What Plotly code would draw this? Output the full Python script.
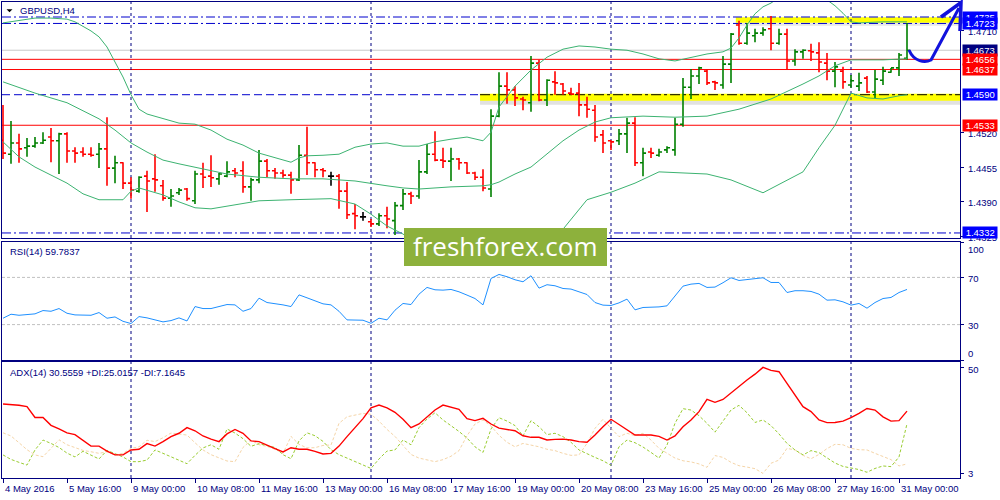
import plotly.graph_objects as go

# ---------------- data ----------------
bar_index = list(range(114))

opens = [1.4505, 1.4479, 1.4500, 1.4491, 1.4494, 1.4500, 1.4511, 1.4504, 1.4517, 1.4485,
         1.4483, 1.4479, 1.4479, 1.4489, 1.4453, 1.4463, 1.4425, 1.4410, 1.4438, 1.4433,
         1.4420, 1.4397, 1.4407, 1.4414, 1.4392, 1.4442, 1.4438, 1.4433, 1.4438, 1.4448,
         1.4448, 1.4418, 1.4431, 1.4466, 1.4448, 1.4444, 1.4440, 1.4431, 1.4477, 1.4463,
         1.4450, 1.4438, 1.4438, 1.4410, 1.4368, 1.4362, 1.4353, 1.4349, 1.4364, 1.4355,
         1.4383, 1.4405, 1.4401, 1.4446, 1.4479, 1.4468, 1.4466, 1.4470, 1.4463, 1.4444,
         1.4436, 1.4414, 1.4550, 1.4606, 1.4599, 1.4582, 1.4575, 1.4649, 1.4580, 1.4614,
         1.4610, 1.4593, 1.4593, 1.4571, 1.4561, 1.4515, 1.4504, 1.4504, 1.4517, 1.4537,
         1.4463, 1.4483, 1.4477, 1.4487, 1.4487, 1.4535, 1.4604, 1.4625, 1.4634, 1.4614,
         1.4608, 1.4647, 1.4720, 1.4686, 1.4700, 1.4705, 1.4713, 1.4686, 1.4703, 1.4653,
         1.4670, 1.4672, 1.4668, 1.4649, 1.4634, 1.4634, 1.4608, 1.4606, 1.4621, 1.4595,
         1.4617, 1.4632, 1.4640, 1.4658]
highs = [1.4571, 1.4541, 1.4517, 1.4509, 1.4511, 1.4520, 1.4528, 1.4519, 1.4520, 1.4492,
         1.4492, 1.4492, 1.4500, 1.4548, 1.4476, 1.4464, 1.4436, 1.4438, 1.4448, 1.4479,
         1.4431, 1.4414, 1.4416, 1.4416, 1.4448, 1.4463, 1.4477, 1.4444, 1.4466, 1.4453,
         1.4466, 1.4435, 1.4487, 1.4470, 1.4453, 1.4450, 1.4446, 1.4496, 1.4530, 1.4464,
         1.4453, 1.4446, 1.4442, 1.4427, 1.4386, 1.4371, 1.4358, 1.4369, 1.4381, 1.4390,
         1.4414, 1.4409, 1.4468, 1.4498, 1.4522, 1.4491, 1.4491, 1.4472, 1.4464, 1.4446,
         1.4451, 1.4563, 1.4632, 1.4632, 1.4606, 1.4586, 1.4662, 1.4655, 1.4619, 1.4634,
         1.4612, 1.4603, 1.4612, 1.4586, 1.4571, 1.4524, 1.4505, 1.4526, 1.4547, 1.4548,
         1.4491, 1.4491, 1.4489, 1.4494, 1.4547, 1.4621, 1.4638, 1.4642, 1.4638, 1.4616,
         1.4662, 1.4705, 1.4728, 1.4724, 1.4713, 1.4716, 1.4737, 1.4713, 1.4713, 1.4675,
         1.4675, 1.4685, 1.4688, 1.4668, 1.4651, 1.4642, 1.4627, 1.4631, 1.4625, 1.4636,
         1.4642, 1.4640, 1.4668, 1.4724]
lows = [1.4470, 1.4461, 1.4463, 1.4474, 1.4491, 1.4498, 1.4464, 1.4442, 1.4463, 1.4463,
        1.4474, 1.4474, 1.4453, 1.4420, 1.4425, 1.4414, 1.4396, 1.4407, 1.4371, 1.4409,
        1.4392, 1.4381, 1.4403, 1.4392, 1.4386, 1.4416, 1.4418, 1.4422, 1.4436, 1.4436,
        1.4407, 1.4392, 1.4425, 1.4436, 1.4433, 1.4435, 1.4405, 1.4429, 1.4440, 1.4436,
        1.4436, 1.4420, 1.4377, 1.4358, 1.4339, 1.4355, 1.4343, 1.4345, 1.4341, 1.4328,
        1.4375, 1.4386, 1.4396, 1.4442, 1.4466, 1.4453, 1.4429, 1.4450, 1.4442, 1.4431,
        1.4410, 1.4399, 1.4548, 1.4573, 1.4569, 1.4561, 1.4558, 1.4578, 1.4569, 1.4590,
        1.4590, 1.4590, 1.4550, 1.4547, 1.4502, 1.4481, 1.4487, 1.4496, 1.4481, 1.4457,
        1.4438, 1.4472, 1.4474, 1.4481, 1.4476, 1.4530, 1.4582, 1.4610, 1.4608, 1.4599,
        1.4601, 1.4612, 1.4683, 1.4683, 1.4688, 1.4700, 1.4673, 1.4683, 1.4638, 1.4644,
        1.4657, 1.4653, 1.4632, 1.4617, 1.4604, 1.4601, 1.4603, 1.4597, 1.4593, 1.4584,
        1.4608, 1.4631, 1.4625, 1.4655]
closes = [1.4481, 1.4500, 1.4489, 1.4494, 1.4500, 1.4505, 1.4504, 1.4517, 1.4485, 1.4481,
          1.4479, 1.4477, 1.4489, 1.4453, 1.4463, 1.4425, 1.4412, 1.4436, 1.4429, 1.4431,
          1.4397, 1.4401, 1.4412, 1.4396, 1.4442, 1.4436, 1.4435, 1.4442, 1.4446, 1.4444,
          1.4418, 1.4431, 1.4466, 1.4448, 1.4444, 1.4440, 1.4431, 1.4477, 1.4463, 1.4450,
          1.4448, 1.4438, 1.4410, 1.4366, 1.4364, 1.4362, 1.4349, 1.4364, 1.4358, 1.4383,
          1.4405, 1.4401, 1.4446, 1.4479, 1.4468, 1.4466, 1.4470, 1.4463, 1.4444, 1.4436,
          1.4416, 1.4550, 1.4606, 1.4599, 1.4584, 1.4580, 1.4649, 1.4580, 1.4617, 1.4612,
          1.4597, 1.4591, 1.4571, 1.4563, 1.4511, 1.4500, 1.4502, 1.4517, 1.4537, 1.4463,
          1.4481, 1.4481, 1.4483, 1.4491, 1.4535, 1.4604, 1.4625, 1.4640, 1.4612, 1.4612,
          1.4647, 1.4703, 1.4686, 1.4705, 1.4705, 1.4711, 1.4686, 1.4703, 1.4653, 1.4670,
          1.4673, 1.4670, 1.4651, 1.4634, 1.4642, 1.4614, 1.4616, 1.4612, 1.4595, 1.4619,
          1.4634, 1.4640, 1.4664, 1.4673]

bb_upper_idx = [0, 2, 4, 6, 8, 9, 10, 11, 12, 13, 14, 15, 16, 17, 18, 20, 22, 24, 26, 28,
                30, 32, 34, 36, 37, 38, 40, 42, 44, 46, 48, 50, 52, 54, 56, 58, 60, 61, 62, 63,
                64, 65, 66, 68, 70, 72, 74, 76, 78, 80, 82, 84, 86, 88, 90, 91, 92, 93, 94, 95,
                96, 98, 100, 102, 103, 104, 105, 106, 107, 110, 113]
bb_upper = [1.4724, 1.4729, 1.4733, 1.4733, 1.4731, 1.4726, 1.4718, 1.4709, 1.4698, 1.4679,
            1.4651, 1.4623, 1.4590, 1.4563, 1.4554, 1.4545, 1.4537, 1.4535, 1.4524, 1.4507,
            1.4496, 1.4481, 1.4472, 1.4464, 1.4472, 1.4476, 1.4477, 1.4479, 1.4492, 1.4498,
            1.4500, 1.4494, 1.4494, 1.4502, 1.4507, 1.4511, 1.4504, 1.4520, 1.4567, 1.4586,
            1.4606, 1.4621, 1.4636, 1.4660, 1.4675, 1.4681, 1.4679, 1.4675, 1.4673, 1.4666,
            1.4657, 1.4653, 1.4660, 1.4666, 1.4670, 1.4677, 1.4696, 1.4720, 1.4741, 1.4754,
            1.4761, 1.4782, 1.4789, 1.4782, 1.4767, 1.4756, 1.4742, 1.4726, 1.4724, 1.4726,
            1.4726]
bb_mid_idx = [0, 4, 8, 12, 14, 16, 18, 20, 22, 24, 28, 32, 36, 40, 44, 48, 50, 52, 56, 60,
              61, 62, 64, 66, 68, 70, 72, 74, 76, 80, 84, 88, 92, 96, 100, 102, 104, 106, 110, 113]
bb_mid = [1.4614, 1.4593, 1.4575, 1.4545, 1.4524, 1.4500, 1.4483, 1.4468, 1.4461, 1.4455,
          1.4442, 1.4436, 1.4433, 1.4433, 1.4429, 1.4420, 1.4416, 1.4414, 1.4418, 1.4420,
          1.4422, 1.4427, 1.4442, 1.4455, 1.4479, 1.4504, 1.4524, 1.4539, 1.4547, 1.4550,
          1.4548, 1.4550, 1.4563, 1.4582, 1.4610, 1.4625, 1.4644, 1.4655, 1.4655, 1.4657]
bb_lower_idx = [0, 2, 4, 8, 10, 12, 15, 16, 17, 18, 20, 22, 24, 26, 28, 30, 32, 36, 41, 44,
                46, 48, 50, 52, 55, 58, 62, 66, 68, 70, 72, 73, 76, 79, 82, 85, 88, 91, 95, 100,
                102, 104, 106, 108, 110, 112, 113]
bb_lower = [1.4502, 1.4474, 1.4455, 1.4425, 1.4405, 1.4394, 1.4394, 1.4410, 1.4416, 1.4412,
            1.4403, 1.4390, 1.4379, 1.4377, 1.4382, 1.4388, 1.4392, 1.4394, 1.4396, 1.4386,
            1.4367, 1.4345, 1.4330, 1.4308, 1.4291, 1.4285, 1.4291, 1.4300, 1.4311, 1.4339,
            1.4375, 1.4394, 1.4408, 1.4425, 1.4446, 1.4444, 1.4442, 1.4431, 1.4407, 1.4446,
            1.4491, 1.4533, 1.4593, 1.4584, 1.4582, 1.4588, 1.4590]

rsi = [35.4, 38.8, 37.9, 38.5, 39.1, 41.9, 41.3, 43.6, 39.6, 38.2,
       38.2, 37.9, 40.2, 35.4, 36.5, 32.8, 30.9, 36.8, 35.7, 34.3,
       32.3, 33.4, 35.7, 33.1, 45.3, 43.6, 43.6, 45.3, 47.0, 46.7,
       41.3, 43.6, 52.4, 48.7, 47.9, 46.7, 45.3, 55.2, 52.7, 49.9,
       47.6, 46.7, 41.3, 34.0, 33.7, 33.7, 31.1, 35.4, 34.0, 42.2,
       47.9, 47.0, 55.8, 61.5, 59.5, 59.2, 59.8, 57.8, 55.0, 52.1,
       46.7, 69.1, 72.5, 70.6, 68.0, 66.3, 71.4, 60.9, 63.8, 62.9,
       60.6, 60.1, 57.8, 55.5, 48.7, 46.5, 46.2, 48.4, 51.6, 42.5,
       44.5, 44.5, 45.0, 45.9, 53.8, 62.6, 64.3, 64.9, 61.5, 61.8,
       65.5, 69.7, 67.4, 68.3, 68.9, 69.7, 65.7, 65.7, 57.2, 58.7,
       58.7, 58.1, 55.8, 50.7, 51.0, 49.3, 46.5, 47.9, 43.9, 48.7,
       52.1, 53.0, 57.2, 59.8]

adx = [33.8, 33.6, 33.2, 32.6, 27.8, 27.8, 24.3, 22.7, 21.0, 20.2,
       17.8, 15.1, 15.1, 12.9, 11.2, 11.2, 13.4, 13.7, 16.2, 15.1,
       17.1, 19.3, 20.8, 23.3, 21.9, 19.6, 18.2, 17.1, 20.5, 22.5,
       20.8, 17.4, 17.1, 15.7, 14.0, 12.5, 14.4, 13.7, 13.7, 12.8,
       11.6, 11.9, 15.1, 19.3, 23.3, 27.3, 32.1, 33.3, 32.1, 30.1,
       27.0, 23.3, 24.9, 27.8, 31.1, 33.3, 32.3, 31.4, 27.3, 26.4,
       27.4, 24.9, 23.1, 22.5, 21.9, 19.7, 19.0, 19.0, 17.8, 18.1,
       18.2, 17.8, 17.1, 16.8, 20.0, 23.7, 27.0, 24.7, 22.2, 20.0,
       20.0, 20.0, 19.4, 17.8, 19.6, 23.7, 26.7, 30.4, 35.8, 34.5,
       35.8, 38.8, 41.7, 44.4, 47.0, 50.0, 48.7, 48.1, 42.9, 38.0,
       32.6, 30.4, 26.7, 25.5, 25.6, 26.2, 27.7, 29.6, 31.8, 31.1,
       28.1, 26.2, 26.4, 30.6]
plus_di = [11.2, 9.2, 7.9, 6.7, 13.4, 17.8, 16.3, 14.5, 12.0, 10.3,
           12.8, 11.0, 9.4, 13.2, 11.6, 10.3, 8.2, 8.2, 8.9, 13.4,
           11.9, 10.4, 8.8, 7.3, 11.0, 14.3, 15.7, 13.7, 22.7, 20.9,
           18.4, 15.0, 16.2, 15.3, 14.5, 11.3, 9.5, 17.4, 21.0, 19.7,
           17.2, 13.5, 11.3, 9.8, 8.3, 6.9, 5.2, 9.4, 12.9, 13.4,
           17.8, 15.7, 23.3, 27.1, 29.9, 26.7, 24.3, 21.6, 18.7, 14.8,
           12.3, 22.7, 27.7, 26.2, 24.2, 19.6, 26.4, 23.7, 20.2, 20.8,
           19.3, 16.8, 13.4, 11.6, 10.1, 8.6, 6.6, 14.8, 17.8, 16.6,
           14.7, 12.3, 9.8, 15.6, 25.2, 31.7, 31.1, 28.6, 25.2, 21.3,
           26.4, 31.1, 33.2, 29.9, 25.6, 26.7, 24.2, 20.5, 16.3, 13.4,
           11.2, 13.1, 12.2, 10.0, 7.6, 6.1, 5.4, 4.7, 3.5, 5.2,
           6.3, 6.0, 10.3, 25.0]
minus_di = [21.0, 19.6, 16.6, 13.5, 11.2, 10.4, 14.1, 17.9, 15.7, 14.3,
            13.2, 12.6, 11.9, 12.6, 11.2, 11.9, 14.1, 14.8, 17.7, 17.1,
            18.8, 20.9, 20.5, 20.0, 16.6, 13.4, 11.3, 9.8, 8.5, 8.2,
            14.5, 17.7, 15.7, 15.0, 13.7, 11.9, 19.4, 15.9, 14.3, 14.4,
            15.4, 15.6, 25.2, 28.1, 28.7, 29.6, 29.2, 26.2, 22.5, 19.4,
            15.4, 11.4, 9.8, 8.9, 8.2, 9.1, 10.6, 13.1, 19.7, 24.9,
            26.7, 24.0, 19.9, 16.8, 14.8, 16.3, 15.6, 14.8, 13.7, 13.1,
            11.9, 11.0, 11.2, 16.3, 23.0, 27.0, 23.0, 19.3, 20.8, 19.7,
            20.8, 17.8, 14.1, 12.0, 9.8, 8.6, 8.1, 7.2, 5.7, 10.9,
            10.1, 7.9, 6.4, 5.8, 5.1, 3.0, 7.5, 8.9, 14.1, 13.4,
            11.0, 9.5, 11.4, 14.0, 15.9, 15.7, 14.1, 13.5, 13.4, 11.9,
            10.6, 9.1, 6.3, 7.2]

date_ticks = [0, 8, 16, 24, 32, 40, 48, 56, 64, 72, 80, 88, 96, 104, 112]
date_labels = ["4 May 2016", "5 May 16:00", "9 May 00:00", "10 May 08:00", "11 May 16:00",
               "13 May 00:00", "16 May 08:00", "17 May 16:00", "19 May 00:00", "20 May 08:00",
               "23 May 16:00", "25 May 00:00", "26 May 08:00", "27 May 16:00", "31 May 00:00"]
week_separators = [16, 46, 76, 106]

price_ticks = [1.4325, 1.4390, 1.4455, 1.4520, 1.4710]
level_prices = [1.4735, 1.4723, 1.4673, 1.4656, 1.4637, 1.4590, 1.4533, 1.4332]
level_kinds = ["blue", "blue", "bid", "red", "red", "blue", "red", "blue"]
rsi_levels = [70, 30]
rsi_labels = [100, 70, 30, 0]
adx_labels = [50, 3]
support_level = 1.4590
resistance_level = 1.4730

title_text = "GBPUSD,H4"
rsi_text = "RSI(14) 59.7837"
adx_text = "ADX(14) 30.5559 +DI:25.0157 -DI:7.1645"
watermark = "freshforex.com"

# ---------------- styling ----------------
NAVY = "#000080"
FONT = "Tahoma, 'Liberation Sans', Arial, sans-serif"
BLUE_LINE = "#0000CD"
PX_PRICE = 0.0001866          # price per pixel in the main panel
NBSP = "\u00a0"

fig = go.Figure()

def pick(arr, idx):
    return [arr[i] for i in idx]

up = [i for i in bar_index if closes[i] > opens[i]]
dn = [i for i in bar_index if closes[i] < opens[i]]
dj = [i for i in bar_index if closes[i] == opens[i]]

# Bollinger bands
for xs, ys in [(bb_upper_idx, bb_upper), (bb_mid_idx, bb_mid), (bb_lower_idx, bb_lower)]:
    fig.add_trace(go.Scatter(x=xs, y=ys, mode="lines", line=dict(color="#3CB371", width=1),
                             xaxis="x", yaxis="y", hoverinfo="skip"))

for idx, col in [(up, "#008000"), (dn, "#FF0000"), (dj, "#000000")]:
    fig.add_trace(go.Ohlc(x=idx, open=pick(opens, idx), high=pick(highs, idx),
                          low=pick(lows, idx), close=pick(closes, idx),
                          increasing=dict(line=dict(color=col, width=1.6)),
                          decreasing=dict(line=dict(color=col, width=1.6)),
                          tickwidth=0.38, xaxis="x", yaxis="y", hoverinfo="skip"))

# RSI
fig.add_trace(go.Scatter(x=bar_index, y=rsi, mode="lines", line=dict(color="#1E90FF", width=1),
                         xaxis="x2", yaxis="y2", hoverinfo="skip"))
# ADX
fig.add_trace(go.Scatter(x=bar_index, y=minus_di, mode="lines",
                         line=dict(color="#F5D5A8", width=1, dash="3px,2px"),
                         xaxis="x3", yaxis="y3", hoverinfo="skip"))
fig.add_trace(go.Scatter(x=bar_index, y=plus_di, mode="lines",
                         line=dict(color="#9ACD32", width=1, dash="3px,2px"),
                         xaxis="x3", yaxis="y3", hoverinfo="skip"))
fig.add_trace(go.Scatter(x=bar_index, y=adx, mode="lines", line=dict(color="#FF0000", width=1.4),
                         xaxis="x3", yaxis="y3", hoverinfo="skip"))

shapes = []
# yellow highlight bands (drawn behind bars)
shapes.append(dict(type="rect", xref="x domain", yref="y", x0=0.499, x1=1.0,
                   y0=support_level - 10 * PX_PRICE, y1=support_level - 5 * PX_PRICE,
                   fillcolor="rgba(120,120,120,0.22)", line=dict(width=0), layer="below"))
shapes.append(dict(type="rect", xref="x domain", yref="y", x0=0.499, x1=1.0,
                   y0=support_level - 6 * PX_PRICE, y1=support_level + 1 * PX_PRICE,
                   fillcolor="#FFFF00", line=dict(width=0), layer="below"))
shapes.append(dict(type="rect", xref="x domain", yref="y", x0=0.766, x1=1.0,
                   y0=resistance_level - 6 * PX_PRICE, y1=resistance_level - 3 * PX_PRICE,
                   fillcolor="rgba(120,120,120,0.18)", line=dict(width=0), layer="below"))
shapes.append(dict(type="rect", xref="x domain", yref="y", x0=0.766, x1=1.0,
                   y0=resistance_level - 3 * PX_PRICE, y1=resistance_level + 2.5 * PX_PRICE,
                   fillcolor="#FFFF00", line=dict(width=0), layer="below"))

# horizontal levels
for p, kind in zip(level_prices, level_kinds):
    if kind == "red":
        ln = dict(color="#FF0000", width=1)
    elif kind == "bid":
        ln = dict(color="#C8C8C8", width=1)
    elif p == support_level:
        ln = dict(color=BLUE_LINE, width=1, dash="8px,4px")
    else:
        ln = dict(color=BLUE_LINE, width=1, dash="9px,3px,2px,3px")
    x1 = 0.499 if p == support_level else 1.0
    shapes.append(dict(type="line", xref="x domain", yref="y", x0=0, x1=x1, y0=p, y1=p,
                       line=ln, layer="below"))
shapes.append(dict(type="line", xref="x domain", yref="y", x0=0.499, x1=1.0,
                   y0=support_level, y1=support_level,
                   line=dict(color="#000000", width=1, dash="10px,3px,3px,3px"), layer="below"))

# RSI levels
for lv in rsi_levels:
    shapes.append(dict(type="line", xref="x2 domain", yref="y2", x0=0, x1=1, y0=lv, y1=lv,
                       line=dict(color="#C0C0C0", width=1, dash="3px,2px"), layer="below"))

# weekly separators
for s in week_separators:
    shapes.append(dict(type="line", xref="x", yref="paper", x0=s, x1=s, y0=0.044, y1=0.996,
                       line=dict(color=NAVY, width=1, dash="3px,3px"), layer="below"))

# watermark box
shapes.append(dict(type="rect", xref="paper", yref="paper", x0=0.404, x1=0.607, y0=0.468, y1=0.544,
                   fillcolor="#8DB13C", line=dict(width=0), layer="above"))

# title triangle
shapes.append(dict(type="path", xref="paper", yref="paper",
                   path="M 0.0065 0.9815 L 0.0125 0.9815 L 0.0095 0.9755 Z",
                   fillcolor="#000000", line=dict(width=0), layer="above"))

# hand-drawn forecast arrow
shapes.append(dict(type="path", xref="paper", yref="paper",
                   path="M 0.909 0.900 C 0.914 0.876, 0.925 0.874, 0.931 0.880 L 0.959 0.984",
                   line=dict(color="#1212DC", width=3), layer="above"))
shapes.append(dict(type="path", xref="paper", yref="paper",
                   path="M 0.941 0.966 L 0.961 0.995 L 0.960 0.938",
                   line=dict(color="#1212DC", width=3.5), layer="above"))

annotations = []
small = dict(family=FONT, size=9.5, color=NAVY)
annotations.append(dict(x=0.018, y=0.979, xref="paper", yref="paper", text=title_text,
                        showarrow=False, xanchor="left", yanchor="middle", font=small))
annotations.append(dict(x=0.008, y=0.498, xref="paper", yref="paper", text=rsi_text,
                        showarrow=False, xanchor="left", yanchor="middle", font=small))
annotations.append(dict(x=0.008, y=0.256, xref="paper", yref="paper", text=adx_text,
                        showarrow=False, xanchor="left", yanchor="middle", font=small))

# price scale labels (drawn before the coloured level boxes so the boxes cover them)
for v in price_ticks:
    annotations.append(dict(x=0.9655, y=v, xref="paper", yref="y", text="%.4f" % v,
                            showarrow=False, xanchor="left", yanchor="middle", yshift=-1,
                            font=small))

# level price boxes on the right axis
box_colors = {"blue": "#0000FF", "red": "#FF0000", "bid": "#000080"}
for p, kind in zip(level_prices, level_kinds):
    annotations.append(dict(x=0.962, y=p, xref="paper", yref="y",
                            text=NBSP + "%.4f" % p + NBSP,
                            showarrow=False, xanchor="left", yanchor="middle",
                            height=11, borderpad=0, bgcolor=box_colors[kind],
                            font=dict(family=FONT, size=9.5, color="white")))

# RSI / ADX scale labels
for v, ypix in zip(rsi_labels, [249, 278, 325, 353]):
    annotations.append(dict(x=0.966, y=1 - ypix / 500, xref="paper", yref="paper", text=str(v),
                            showarrow=False, xanchor="left", yanchor="middle", font=small))
for v, ypix in zip(adx_labels, [369, 473]):
    annotations.append(dict(x=0.966, y=1 - ypix / 500, xref="paper", yref="paper", text=str(v),
                            showarrow=False, xanchor="left", yanchor="middle", font=small))

# date labels
for t, lab in zip(date_ticks, date_labels):
    annotations.append(dict(x=t, y=0.024, xref="x3", yref="paper", text=lab, showarrow=False,
                            xanchor="left", yanchor="middle", font=small))

# watermark text
annotations.append(dict(x=0.5055, y=0.509, xref="paper", yref="paper", text=watermark,
                        showarrow=False, xanchor="center", yanchor="middle",
                        font=dict(family="'Open Sans', 'Noto Sans', sans-serif", size=26,
                                  color="white")))

xcommon = dict(domain=[0.002, 0.960], range=[-0.125, 119.625], showgrid=False, zeroline=False,
               showline=True, mirror=True, linecolor=NAVY, linewidth=1, fixedrange=True)
ycommon = dict(side="right", showgrid=False, zeroline=False, showline=True, mirror=True,
               linecolor=NAVY, linewidth=1, ticks="outside", ticklen=3, tickcolor=NAVY,
               showticklabels=False)

fig.update_layout(
    width=1000, height=500, margin=dict(l=0, r=0, t=0, b=0),
    paper_bgcolor="white", plot_bgcolor="white", showlegend=False,
    xaxis=dict(**xcommon, anchor="y", showticklabels=False, ticks="",
               rangeslider=dict(visible=False)),
    xaxis2=dict(**xcommon, anchor="y2", matches="x", showticklabels=False, ticks=""),
    xaxis3=dict(**xcommon, anchor="y3", matches="x", showticklabels=False, ticks="outside",
                tickvals=date_ticks, ticklen=4, tickcolor=NAVY),
    yaxis=dict(**ycommon, anchor="x", domain=[0.524, 0.996], range=[1.43226, 1.47630],
               tickvals=price_ticks),
    yaxis2=dict(**ycommon, anchor="x2", domain=[0.280, 0.516], range=[0, 100],
                tickvals=rsi_labels),
    yaxis3=dict(**ycommon, anchor="x3", domain=[0.044, 0.276], range=[0.96, 52.4],
                tickvals=adx_labels),
    shapes=shapes, annotations=annotations,
)

fig.write_html("out.html", config={"displayModeBar": False},
               post_script="document.body.style.margin='0';"
                           "document.body.style.overflow='hidden';")
